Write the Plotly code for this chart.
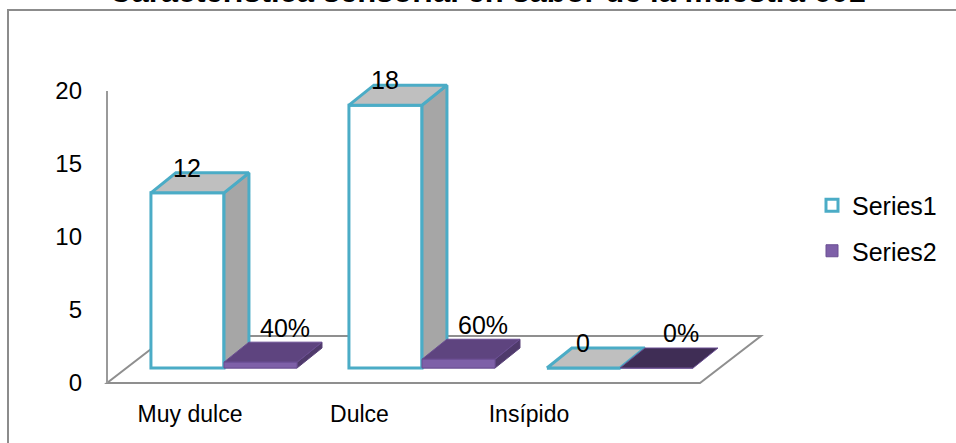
import plotly.graph_objects as go

# ---------------- data ----------------
categories = ["Muy dulce", "Dulce", "Insípido"]
series1 = [12, 18, 0]
series2 = [0.4, 0.6, 0.0]
series2_labels = ["40%", "60%", "0%"]
y_ticks = [0, 5, 10, 15, 20]
title_text = "Característica sensorial en sabor de la muestra 601"

# ---------------- layout constants ----------------
W, H = 956, 443
FONT = "Liberation Sans, Arial, sans-serif"
TEAL = "#4BACC6"

# bar (data) axes: category spacing / y scale in pixels
CAT_PX, CAT0_PX = 198.0, 224.0
UNIT_PX, BASE_PX = 14.6, 368.0
# tick-label axes
TICK_BASE_PX = 383.0
LAB_CAT_PX, LAB0_PX = 169.5, 190.0

BAR_W = 0.369   # front face width (x units)
DX = 0.126      # depth offset in x units
DY = 1.37       # depth offset in y units

# floor frame (x units / tick-axis units)
FL_X = (107 - CAT0_PX) / CAT_PX
FR_X = (700 - CAT0_PX) / CAT_PX
F_DX = 0.308
F_DY = 3.22

S1_TOP = "#BFBFBF"
S1_SIDE = "#A6A6A6"
S2_FRONT = "#7E60A8"
S2_SIDE = "#4F3A6B"
S2_TOP = ["#5E447F", "#5E447F", "#3F2D55"]

fig = go.Figure()

# front faces as real bars (also provide legend)
fig.add_trace(go.Bar(
    x=[i - BAR_W / 2 for i in range(len(categories))], y=series1, width=BAR_W,
    marker=dict(color="white", line=dict(color=TEAL, width=3)),
    name="Series1", legendgroup="s1", hoverinfo="skip"))
fig.add_trace(go.Bar(
    x=[i + BAR_W / 2 for i in range(len(categories))], y=series2, width=BAR_W,
    marker=dict(color=S2_FRONT, line=dict(color="#6A4E92", width=1)),
    name="Series2", legendgroup="s2", hoverinfo="skip"))


def poly(xs, ys, fill, lcolor, lwidth):
    fig.add_trace(go.Scatter(
        x=xs + [xs[0]], y=ys + [ys[0]], mode="lines", fill="toself",
        fillcolor=fill, line=dict(color=lcolor, width=lwidth),
        showlegend=False, hoverinfo="skip"))


for i in range(len(categories)):
    c = float(i)
    v1 = series1[i]
    v2 = series2[i]
    # series 1 side + top
    if v1 > 0:
        poly([c, c + DX, c + DX, c], [0, DY, v1 + DY, v1], S1_SIDE, TEAL, 3)
    poly([c - BAR_W, c, c + DX, c - BAR_W + DX], [v1, v1, v1 + DY, v1 + DY], S1_TOP, TEAL, 3)
    # series 2 side, top, front
    if v2 > 0:
        poly([c + BAR_W, c + BAR_W + DX, c + BAR_W + DX, c + BAR_W], [0, DY, v2 + DY, v2],
             S2_SIDE, "#5A4379", 1)
    poly([c, c + BAR_W, c + BAR_W + DX, c + DX], [v2, v2, v2 + DY, v2 + DY],
         S2_TOP[i], "#6A4E92", 1)
    if v2 > 0:
        poly([c, c + BAR_W, c + BAR_W, c], [0, 0, v2, v2], S2_FRONT, "#6A4E92", 1)

# invisible trace that carries the tick-label axes
fig.add_trace(go.Scatter(x=list(range(len(categories))), y=[0] * len(categories),
                         xaxis="x2", yaxis="y2", mode="markers",
                         marker=dict(opacity=0), showlegend=False, hoverinfo="skip"))

annotations = []
for i in range(len(categories)):
    annotations.append(dict(x=i - BAR_W / 2, y=series1[i] + DY + 0.35, xref="x", yref="y",
                            text=str(series1[i]), showarrow=False, yanchor="middle",
                            font=dict(size=25, color="black", family=FONT)))
    annotations.append(dict(x=i + BAR_W / 2 + DX, y=series2[i] + DY + 1.0, xref="x", yref="y",
                            text=series2_labels[i], showarrow=False, yanchor="middle",
                            font=dict(size=25, color="black", family=FONT)))
annotations.append(dict(x=487 / W, y=1.0, xref="paper", yref="paper", text="<b>" + title_text + "</b>",
                        showarrow=False, yanchor="bottom", yshift=-11,
                        font=dict(size=31, color="black", family=FONT)))

shapes = [
    dict(type="rect", xref="paper", yref="paper", x0=8 / W, x1=1.2, y0=-0.2, y1=1 - 10 / H,
         line=dict(color="#8C8C8C", width=2), fillcolor="rgba(0,0,0,0)", layer="below"),
    dict(type="path", xref="x", yref="y2",
         path=f"M {FL_X},0 L {FR_X},0 L {FR_X + F_DX},{F_DY} L {FL_X + F_DX},{F_DY} Z",
         line=dict(color="#8F8F8F", width=2), fillcolor="rgba(0,0,0,0)", layer="below"),
    dict(type="line", xref="x", yref="y2", x0=FL_X, x1=FL_X, y0=0, y1=20,
         line=dict(color="#9A9A9A", width=2), layer="below"),
]

fig.update_layout(
    width=W, height=H, margin=dict(l=0, r=0, t=0, b=0),
    paper_bgcolor="white", plot_bgcolor="rgba(0,0,0,0)",
    barmode="overlay", showlegend=True,
    font=dict(family=FONT, size=23, color="black"),
    xaxis=dict(range=[-CAT0_PX / CAT_PX, (W - CAT0_PX) / CAT_PX], visible=False, fixedrange=True),
    yaxis=dict(range=[-(H - BASE_PX) / UNIT_PX, BASE_PX / UNIT_PX], visible=False, fixedrange=True),
    xaxis2=dict(range=[-LAB0_PX / LAB_CAT_PX, (W - LAB0_PX) / LAB_CAT_PX], overlaying="x",
                anchor="free", position=(H - 398) / H, side="bottom",
                tickmode="array", tickvals=list(range(len(categories))), ticktext=categories,
                showgrid=False, zeroline=False, showline=False, ticks="",
                tickfont=dict(size=23, color="black", family=FONT)),
    yaxis2=dict(range=[-(H - TICK_BASE_PX) / UNIT_PX, TICK_BASE_PX / UNIT_PX], overlaying="y",
                anchor="free", position=107 / W, side="left",
                tickmode="array", tickvals=y_ticks,
                showgrid=False, zeroline=False, showline=False, ticks="", ticklabelstandoff=25,
                tickfont=dict(size=24, color="black", family=FONT)),
    legend=dict(x=812 / W, y=1 - 228 / H, xanchor="left", yanchor="middle",
                font=dict(size=25, color="black", family=FONT), tracegroupgap=10,
                bgcolor="rgba(0,0,0,0)"),
    annotations=annotations, shapes=shapes,
)

fig.write_html("out.html")
